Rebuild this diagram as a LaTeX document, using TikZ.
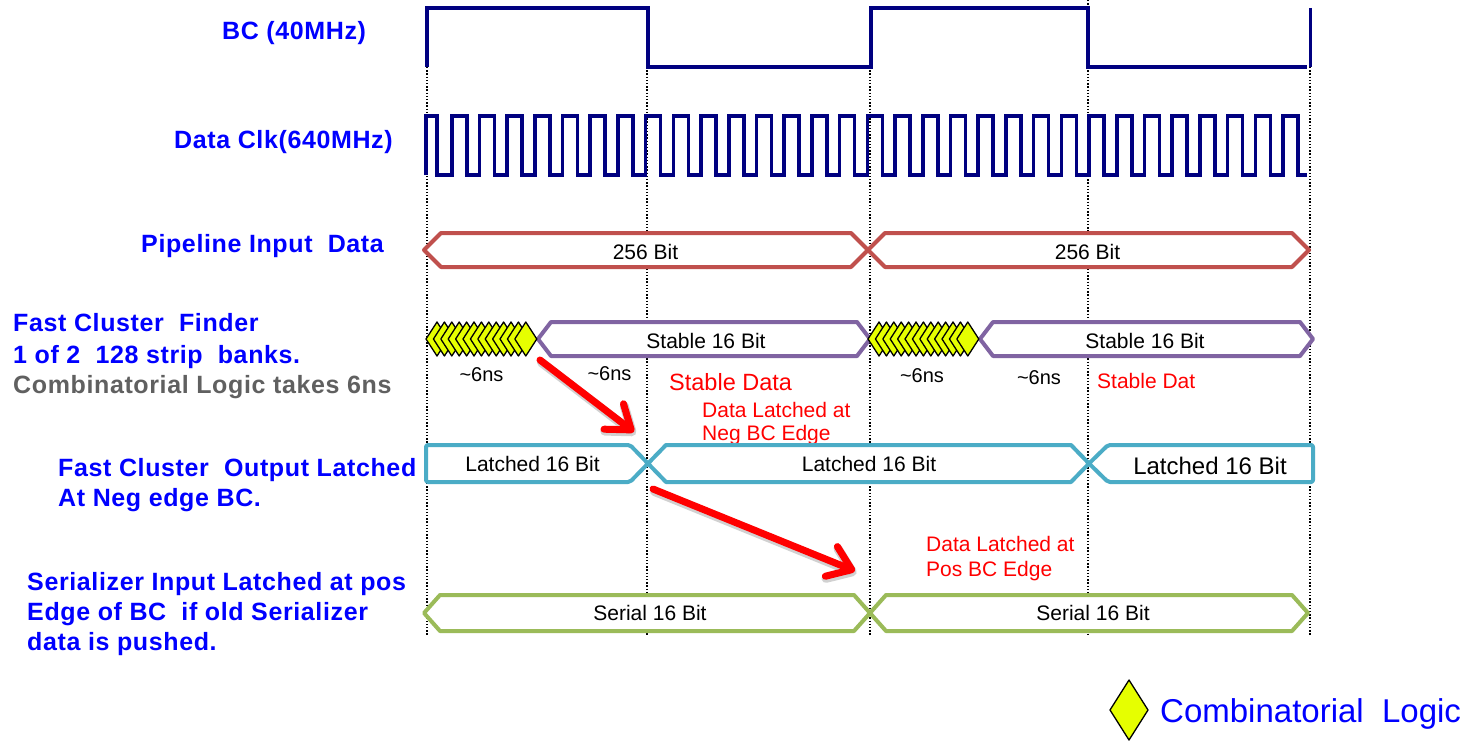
\documentclass[tikz,border=0pt]{standalone}
\usepackage{fontspec}
\setmainfont{Liberation Sans}
\usetikzlibrary{arrows.meta}
\definecolor{clkblue}{HTML}{000080}
\definecolor{labblue}{HTML}{0000FF}
\definecolor{labgray}{HTML}{606060}
\definecolor{busred}{HTML}{C0504D}
\definecolor{buspurple}{HTML}{8064A2}
\definecolor{buscyan}{HTML}{4BACC6}
\definecolor{busgreen}{HTML}{9BBB59}
\definecolor{combyellow}{HTML}{E6FF00}
\definecolor{arrred}{HTML}{FF0000}
\begin{document}
\begin{tikzpicture}[x=1pt,y=-1pt,
  lbl/.style={text=labblue,font=\fontsize{25}{30}\selectfont\bfseries\addfontfeature{LetterSpace=2.5},anchor=base west,inner sep=0pt},
  graylbl/.style={lbl,text=labgray},
  bustxt/.style={font=\fontsize{21}{25}\selectfont,anchor=base,inner sep=0pt,text=black},
  redtxt/.style={text=arrred,font=\fontsize{21}{25}\selectfont,anchor=base west,inner sep=0pt},
  nstxt/.style={font=\fontsize{20}{24}\selectfont,anchor=base,inner sep=0pt},
  clk/.style={draw=clkblue,line width=3.6pt,line join=miter},
  grid/.style={draw=black,line width=1.4pt,dash pattern=on 1.4pt off 1.8pt},
  redbus/.style={draw=busred,fill=white,line width=4pt,line join=round},
  purbus/.style={draw=buspurple,fill=white,line width=4pt,line join=round},
  cyanbus/.style={draw=buscyan,fill=white,line width=4pt,line join=round},
  grnbus/.style={draw=busgreen,fill=white,line width=4pt,line join=round},
  diam/.style={draw=black,fill=combyellow,line width=1.3pt,line join=round},
  bigarrow/.style={draw=arrred,line width=7pt,line cap=round,line join=round,-{Straight Barb[length=22pt,width=32pt,round]}},
  arrshadow/.style={draw=black,opacity=0.18,line width=9pt,line cap=round,line join=round,-{Straight Barb[length=22pt,width=32pt,round]}}
]
\useasboundingbox (0,0) rectangle (1471,741);
\fill[white] (0,0) rectangle (1471,741);

% dotted time grid
\draw[grid] (427,67) -- (427,636);
\draw[grid] (647,67) -- (647,636);
\draw[grid] (870,67) -- (870,636);
\draw[grid] (1088,0) -- (1088,636);
\draw[grid] (1310,67) -- (1310,636);

% BC clock
\draw[clk] (427,67) -- (427,8) -- (648,8) -- (648,67) -- (871,67) -- (871,8) -- (1088,8) -- (1088,67) -- (1307,67);
\draw[clk] (1310.5,8) -- (1310.5,67);

% Data clock
\draw[clk] (426,175) -- (426,116) -- (437,116) -- (437,175)
  \foreach \k in {1,...,31} { -- ({424+27.71*\k},175) -- ({424+27.71*\k},116) -- ({439+27.71*\k},116) -- ({439+27.71*\k},175) }
  -- (1307,175);

% Pipeline input data bus
\draw[redbus] (424,250) -- (441,233) -- (851,233) -- (868,250) -- (851,267) -- (441,267) -- cycle;
\draw[redbus] (868,250) -- (885,233) -- (1292,233) -- (1309,250) -- (1292,267) -- (885,267) -- cycle;
\node[bustxt] (p1) at (645.5,259) {256 Bit};
\node[bustxt] (p2) at (1087.5,259) {256 Bit};

% Fast cluster finder
\draw[purbus] (538,339) -- (551,322) -- (857,322) -- (870,339) -- (857,356) -- (551,356) -- cycle;
\draw[purbus] (980,339) -- (993,322) -- (1300,322) -- (1313,339) -- (1300,356) -- (993,356) -- cycle;
\foreach \i in {0,...,12} {
  \draw[diam] ({426+7.4*\i},339) -- ++(11,-17) -- ++(11,17) -- ++(-11,17) -- cycle;
}
\foreach \i in {0,...,12} {
  \draw[diam] ({868+7.4*\i},339) -- ++(11,-17) -- ++(11,17) -- ++(-11,17) -- cycle;
}
\node[bustxt] (s1) at (706,348) {Stable 16 Bit};
\node[bustxt] (s2) at (1145,348) {Stable 16 Bit};
\node[nstxt] (n1) at (481.5,381.5) {\char"7E 6ns};
\node[nstxt] (n2) at (609.5,380) {\char"7E 6ns};
\node[nstxt] (n3) at (922,382.5) {\char"7E 6ns};
\node[nstxt] (n4) at (1039,384) {\char"7E 6ns};
\node[redtxt,font=\fontsize{23.5}{28}\selectfont] (sd1) at (669,390) {Stable Data};
\node[redtxt] (dl1) at (702,417) {Data Latched at};
\node[redtxt] (nb1) at (702,440) {Neg BC Edge};
\node[redtxt] (sd2) at (1097,388) {Stable Dat};

% Fast cluster output
\draw[cyanbus,rounded corners=2pt] (426,445) -- (630,445) -- (648,463.5) -- (630,482) -- (426,482) -- cycle;
\draw[cyanbus] (648,463.5) -- (666,445) -- (1071,445) -- (1089,463.5) -- (1071,482) -- (666,482) -- cycle;
\draw[cyanbus,rounded corners=2pt] (1089,463.5) -- (1108,445) -- (1313,445) -- (1313,482) -- (1108,482) -- cycle;
\node[bustxt] (l1) at (532.5,471.5) {Latched 16 Bit};
\node[bustxt] (l2) at (869,471.5) {Latched 16 Bit};
\node[bustxt,font=\fontsize{24}{28}\selectfont] (l3) at (1210,474) {Latched 16 Bit};

% Serializer
\draw[grnbus] (424,613) -- (440,595) -- (854,595) -- (870,613) -- (854,631) -- (440,631) -- cycle;
\draw[grnbus] (870,613) -- (886,595) -- (1292,595) -- (1308,613) -- (1292,631) -- (886,631) -- cycle;
\node[bustxt] (r1) at (650,620.5) {Serial 16 Bit};
\node[bustxt] (r2) at (1093,620.5) {Serial 16 Bit};
\node[redtxt] (dl2) at (926,551) {Data Latched at};
\node[redtxt] (pb2) at (926,576) {Pos BC Edge};

% red arrows
\coordinate (a1s) at (540,360);
\coordinate (a1e) at (634,432);
\coordinate (a2s) at (653,489);
\coordinate (a2e) at (855,571);
\draw[arrshadow,transform canvas={shift={(1.5pt,-2.5pt)}}] (a1s) -- (a1e);
\draw[arrshadow,transform canvas={shift={(1.5pt,-2.5pt)}}] (a2s) -- (a2e);
\draw[bigarrow] (a1s) -- (a1e);
\draw[bigarrow] (a2s) -- (a2e);

% left labels
\node[lbl] (t1) at (222,40) {BC (40MHz)};
\node[lbl] (t2) at (174,148) {Data Clk(640MHz)};
\node[lbl] (t3) at (141,252) {Pipeline Input~ Data};
\node[lbl] (t4) at (13,331) {Fast Cluster~ Finder};
\node[lbl] (t5) at (13,363) {1 of 2~ 128 strip~ banks.};
\node[graylbl] (t6) at (13,393) {Combinatorial Logic takes 6ns};
\node[lbl] (t7) at (58,476) {Fast Cluster~ Output Latched};
\node[lbl] (t8) at (58,506) {At Neg edge BC.};
\node[lbl] (t9) at (27,590) {Serializer Input Latched at pos};
\node[lbl] (t10) at (27,620) {Edge of BC~ if old Serializer};
\node[lbl] (t11) at (27,650) {data is pushed.};

% legend
\draw[diam] (1110,710) -- (1129,680) -- (1148,710) -- (1129,740) -- cycle;
\node[text=labblue,font=\fontsize{33}{38}\selectfont,anchor=base west,inner sep=0pt] (leg) at (1160,722) {Combinatorial~ Logic};
\end{tikzpicture}
\end{document}
